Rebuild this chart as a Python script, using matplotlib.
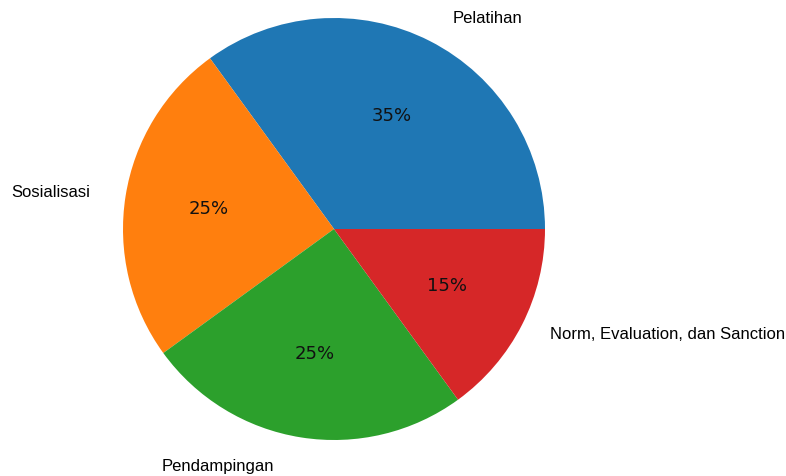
import matplotlib
matplotlib.use("Agg")
import matplotlib.pyplot as plt

categories = ["Pelatihan", "Sosialisasi", "Pendampingan", "Norm, Evaluation, dan Sanction"]
values = [35, 25, 25, 15]
colors = ["#1f77b4", "#ff7f0e", "#2ca02c", "#d62728"]

W, H = 786, 476
fig = plt.figure(figsize=(W / 100, H / 100), dpi=100)
cx, cy, r = 334, 229, 211
ax = fig.add_axes([(cx - r) / W, (H - cy - r) / H, 2 * r / W, 2 * r / H])

wedges, texts, autotexts = ax.pie(
    values, labels=categories, colors=colors, autopct="%1.0f%%",
    startangle=0, counterclock=True, pctdistance=0.6, labeldistance=1.1,
    textprops={"fontsize": 13},
)
ax.set_xlim(-1, 1)
ax.set_ylim(-1, 1)
ax.set_aspect("equal")

# label placement adjustments (data units of the pie)
label_pos = [(0.564, 1.0, "left"), (-1.156, 0.171, "right"),
             (-0.284, -1.125, "right"), (1.024, -0.498, "left")]
for t, (x, y, ha) in zip(texts, label_pos):
    t.set_position((x, y))
    t.set_ha(ha)
    t.set_va("center")
    t.set_fontfamily(["Liberation Sans", "DejaVu Sans"])
    t.set_fontsize(12)
    t.set_clip_on(False)

for t in autotexts:
    t.set_fontsize(13)
    t.set_color("#111111")

fig.savefig("out.png", dpi=100)
